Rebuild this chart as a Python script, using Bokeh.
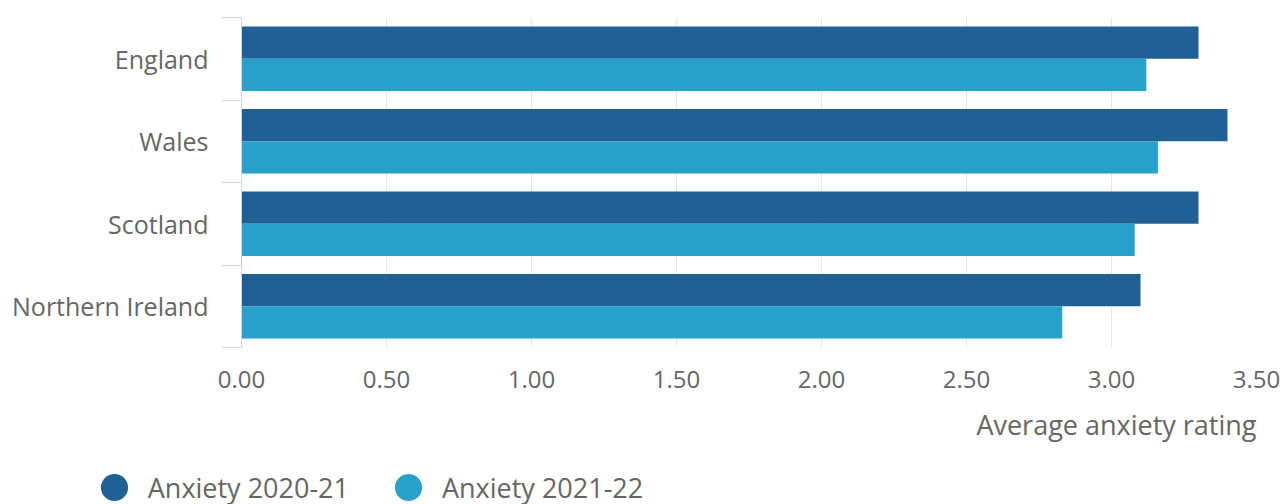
from bokeh.plotting import figure
from bokeh.layouts import column
from bokeh.models import (ColumnDataSource, Range1d, FixedTicker, PrintfTickFormatter,
                          Legend, LegendItem, Title)
from bokeh.transform import dodge
from bokeh.embed import file_html
from bokeh.resources import INLINE

# ---- data ----
countries = ["England", "Wales", "Scotland", "Northern Ireland"]
anxiety_2020_21 = [3.30, 3.40, 3.30, 3.10]
anxiety_2021_22 = [3.12, 3.16, 3.08, 2.83]
series_names = ["Anxiety 2020-21", "Anxiety 2021-22"]
series_colors = ["#206095", "#27a0cc"]
x_ticks = [0.0, 0.5, 1.0, 1.5, 2.0, 2.5, 3.0, 3.5]
x_title = "Average anxiety rating"

FONT = "Open Sans"
TEXT = "#666666"
AXIS = "#ccd6eb"

W = 1280
H_MAIN = 470
H_LEG = 504 - H_MAIN

n = len(countries)
pos = [i + 0.5 for i in range(n)]
src = ColumnDataSource(dict(pos=pos, country=countries,
                            a=anxiety_2020_21, b=anxiety_2021_22))

p = figure(width=W, height=H_MAIN, output_backend="svg", toolbar_location=None,
           x_range=Range1d(x_ticks[0], x_ticks[-1]), y_range=Range1d(n, 0),
           min_border_left=241, min_border_right=24, min_border_top=17,
           min_border_bottom=H_MAIN - 347)
p.outline_line_color = None
p.background_fill_color = "white"
p.border_fill_color = "white"

bar_h = 0.39
p.hbar(y=dodge("pos", -bar_h / 2), left=0, right="a", height=bar_h, source=src,
       fill_color=series_colors[0], line_color=None)
p.hbar(y=dodge("pos", bar_h / 2), left=0, right="b", height=bar_h, source=src,
       fill_color=series_colors[1], line_color=None)

# x axis
xa = p.xaxis[0]
xa.ticker = FixedTicker(ticks=x_ticks)
xa.formatter = PrintfTickFormatter(format="%.2f")
xa.axis_line_color = None
xa.major_tick_line_color = None
xa.minor_tick_line_color = None
xa.major_label_text_font = FONT
xa.major_label_text_font_size = "24px"
xa.major_label_text_color = TEXT
xa.major_label_standoff = 17

# axis title, right-aligned under the axis
p.add_layout(Title(text=x_title, align="right", text_font=FONT,
                   text_font_size="27px", text_font_style="normal",
                   text_color=TEXT, standoff=26), "below")

# y axis
ya = p.yaxis[0]
ya.ticker = FixedTicker(ticks=pos, minor_ticks=list(range(n + 1)))
ya.major_label_overrides = {pv: c for pv, c in zip(pos, countries)}
ya.major_tick_line_color = None
ya.major_tick_out = 0
ya.major_tick_in = 0
ya.minor_tick_line_color = AXIS
ya.minor_tick_out = 20
ya.minor_tick_in = 0
ya.axis_line_color = AXIS
ya.major_label_text_font = FONT
ya.major_label_text_font_size = "25px"
ya.major_label_text_color = TEXT
ya.major_label_standoff = 13

p.xgrid.ticker = FixedTicker(ticks=x_ticks)
p.xgrid.grid_line_color = "#e6e6e6"
p.ygrid.visible = False

# legend strip
lg = figure(width=W, height=H_LEG, output_backend="svg", toolbar_location=None,
            x_range=Range1d(0, 1), y_range=Range1d(0, 1),
            x_axis_location=None, y_axis_location=None,
            min_border_left=0, min_border_right=0, min_border_top=0,
            min_border_bottom=0)
lg.outline_line_color = None
lg.grid.visible = False
for fig in (p, lg):
    try:
        fig.frame_align = False
    except Exception:
        pass
nan = float("nan")
r1 = lg.scatter(x=[nan], y=[nan], marker="circle", fill_color=series_colors[0],
                line_color=None)
r2 = lg.scatter(x=[nan], y=[nan], marker="circle", fill_color=series_colors[1],
                line_color=None)
legend = Legend(items=[LegendItem(label=series_names[0], renderers=[r1]),
                       LegendItem(label=series_names[1], renderers=[r2])],
                location=(79.75, -17), orientation="horizontal",
                glyph_width=68, glyph_height=68, label_standoff=0, spacing=25,
                padding=0, margin=0, border_line_color=None,
                background_fill_alpha=0,
                label_text_font=FONT, label_text_font_size="27px",
                label_text_color=TEXT)
lg.add_layout(legend)

layout = column(p, lg, spacing=0)
open("out.html", "w").write(file_html(layout, INLINE))
